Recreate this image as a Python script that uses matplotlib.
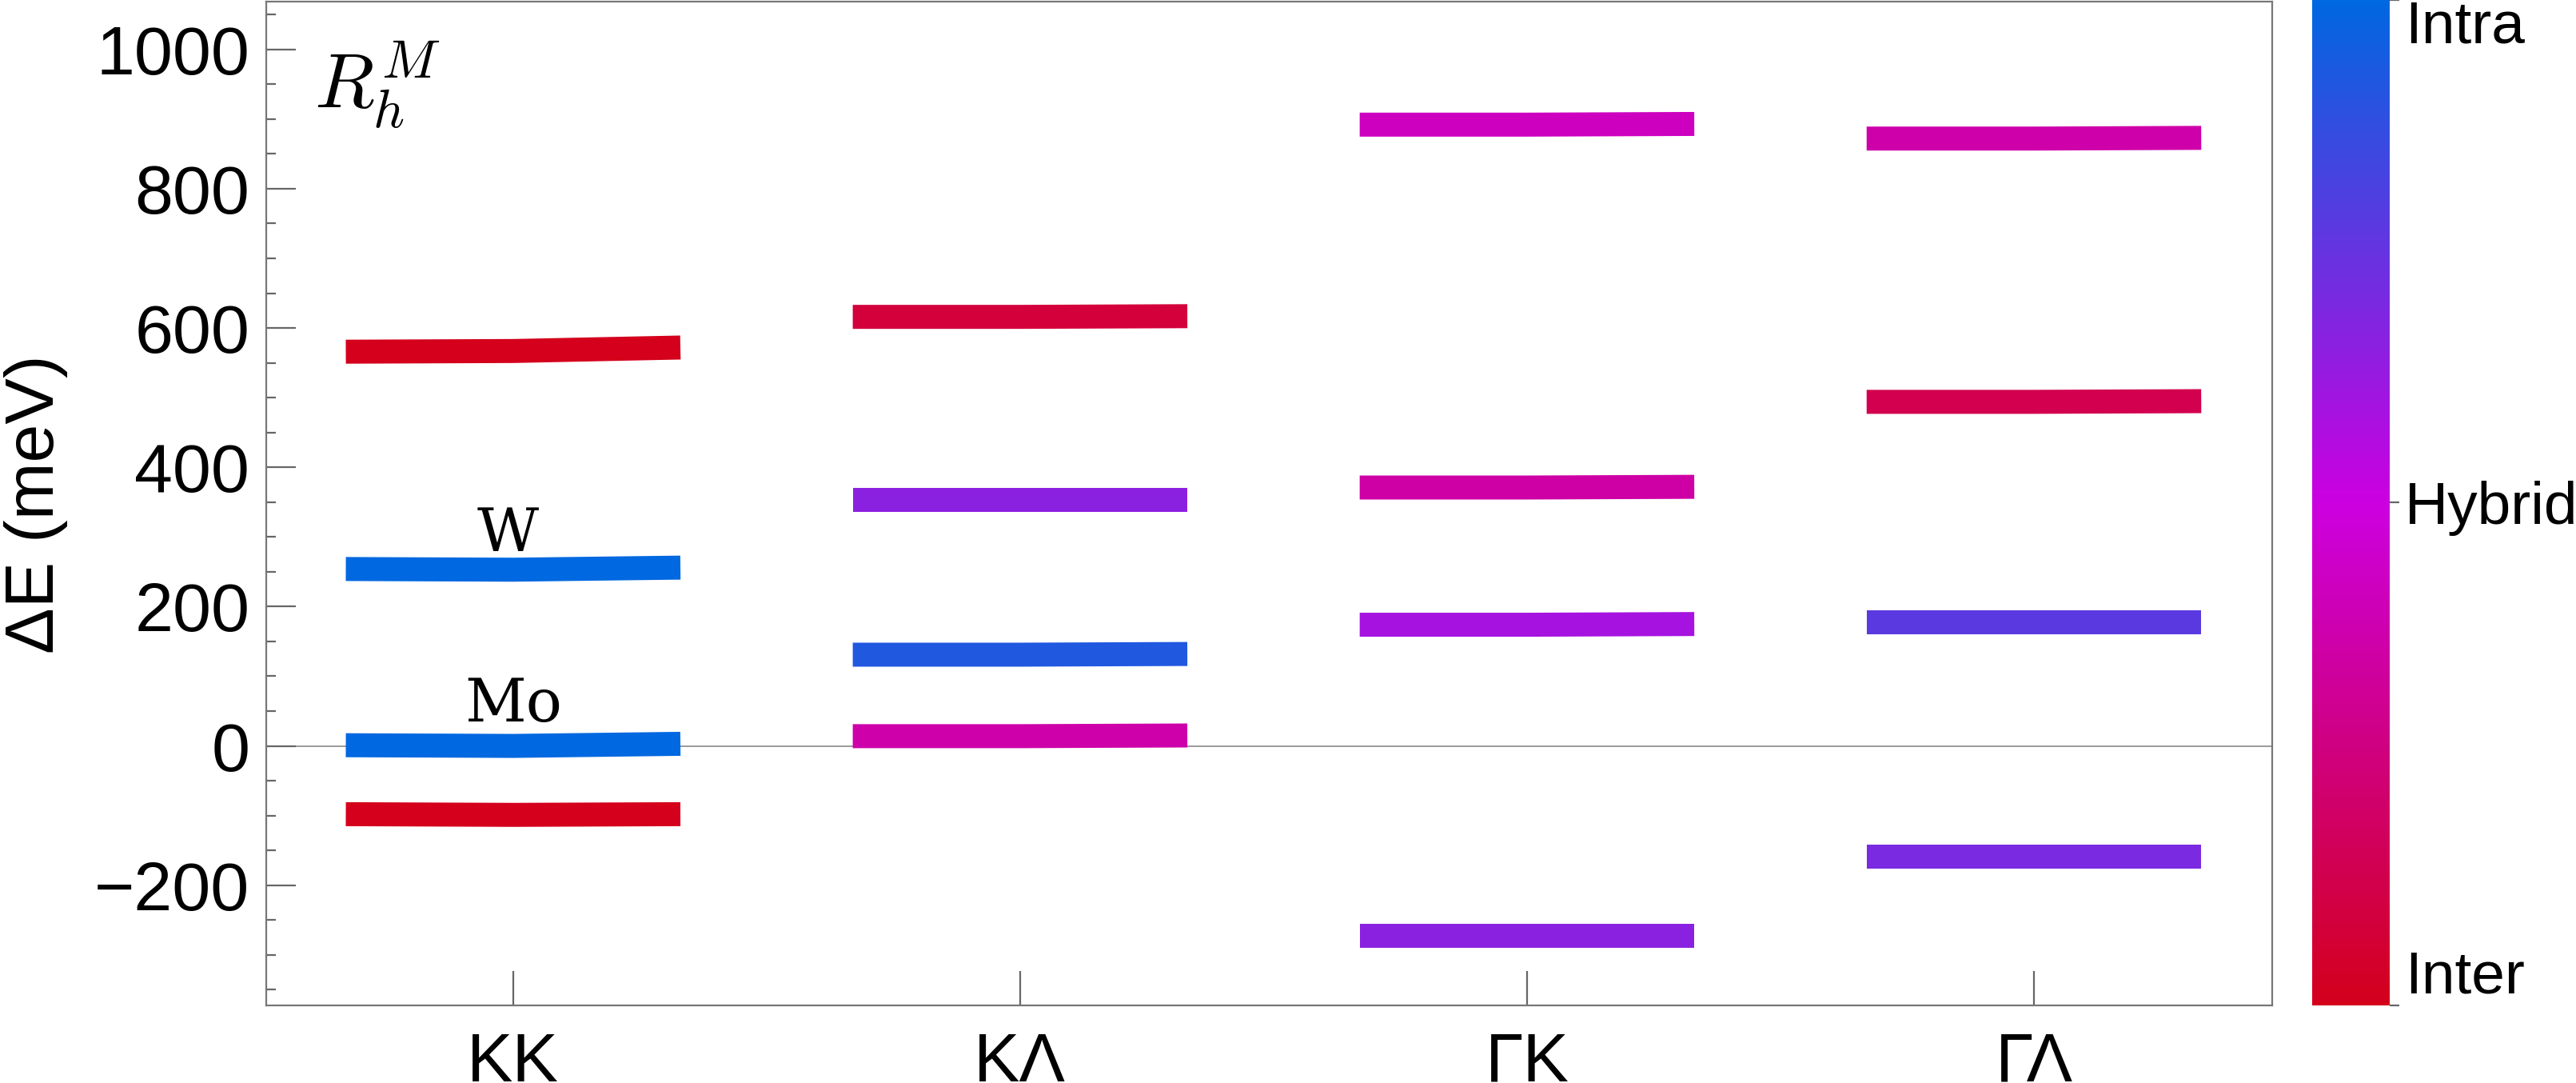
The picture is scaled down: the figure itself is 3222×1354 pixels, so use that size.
import numpy as np
import matplotlib
matplotlib.use("Agg")
import matplotlib.pyplot as plt
from matplotlib.colors import LinearSegmentedColormap
from matplotlib.ticker import MultipleLocator

plt.rcParams['font.family'] = ['Liberation Sans', 'DejaVu Sans']
plt.rcParams['mathtext.fontset'] = 'cm'

# x categories (momentum valleys)
paths = ["KK", "KΛ", "ΓK", "ΓΛ"]

# one entry per level: which path, energy at left / middle / right end (meV),
# and layer character (0 = inter, 1 = intra)
level_path = [0, 0, 0, 0, 1, 1, 1, 1, 2, 2, 2, 2, 3, 3, 3, 3]
e_left = [566, 254, 1, -98, 616, 353, 131, 14, 892, 371, 174, -273, 872, 494, 177, -159]
e_mid = [567, 253, 0, -99, 616, 353, 131, 14, 892, 371, 174, -273, 872, 494, 177, -159]
e_right = [572, 256, 3, -98, 617, 353, 132, 15, 893, 372, 175, -273, 873, 495, 177, -159]
character = [0.0, 1.0, 1.0, 0.0, 0.08, 0.66, 0.92, 0.36,
             0.42, 0.35, 0.59, 0.66, 0.36, 0.13, 0.78, 0.70]

# labels on the KK levels
level_names = ["W", "Mo"]
name_x = [0.99, 1.0]
name_y = [280, 35]

cbar_ticks = [0, 0.5, 1]
cbar_labels = ["Inter", "Hybrid", "Intra"]

cmap = LinearSegmentedColormap.from_list(
    "interintra", [(0.0, "#d4001c"), (0.5, "#cc00e0"), (1.0, "#0068e0")])

W, H = 3222, 1354
fig = plt.figure(figsize=(W / 200, H / 200), dpi=200)
ax = fig.add_axes([333 / W, 1 - 1256.5 / H, (2842 - 333) / W, (1256.5 - 1.7) / H])

half = 0.33
for p, a, m, b, c in zip(level_path, e_left, e_mid, e_right, character):
    x = p + 1
    ax.plot([x - half, x, x + half], [a, m, b], color=cmap(c), lw=10.8,
            solid_capstyle="butt", solid_joinstyle="round", zorder=3)

ax.axhline(0, color="#9a9a9a", lw=0.7, zorder=1)

for name, x, y in zip(level_names, name_x, name_y):
    ax.text(x, y, name, family="DejaVu Serif", fontsize=27, ha="center", va="baseline")

ax.text(0.024, 0.962, r"$R_h^M$", transform=ax.transAxes, fontsize=35,
        ha="left", va="top")

ax.set_xlim(0.513, 4.47)
ax.set_ylim(-372, 1069)
ax.set_xticks(range(1, len(paths) + 1))
ax.set_xticklabels(paths)
ax.yaxis.set_major_locator(MultipleLocator(200))
ax.yaxis.set_minor_locator(MultipleLocator(50))
ax.tick_params(axis="x", direction="in", length=15.5, width=0.8, color="#666666",
               labelsize=31, pad=12)
ax.tick_params(axis="y", which="major", direction="in", length=13.3, width=0.8,
               color="#666666", labelsize=31, pad=7.5)
ax.tick_params(axis="y", which="minor", direction="in", length=4.3, width=0.8,
               color="#666666")
for s in ax.spines.values():
    s.set_color("#777777")
    s.set_linewidth(0.8)

fig.text(45 / W, 1 - 630 / H, "ΔE (meV)", rotation=90, ha="center", va="center",
         fontsize=31)

# colour bar
cax = fig.add_axes([2892 / W, 1 - 1256.5 / H, 97 / W, 1256.5 / H])
grad = np.linspace(0, 1, 256).reshape(-1, 1)
cax.imshow(grad, aspect="auto", cmap=cmap, origin="lower", extent=[0, 1, 0, 1])
cax.set_xticks([])
cax.yaxis.tick_right()
cax.set_yticks(cbar_ticks)
cax.set_yticklabels(cbar_labels)
cax.set_ylim(0, 1)
cax.tick_params(axis="y", direction="out", length=4.3, width=0.8, color="#666666",
                labelsize=27, pad=2.5)
for s in cax.spines.values():
    s.set_visible(False)
labs = cax.get_yticklabels()
labs[0].set_va("bottom")
labs[-1].set_va("top")

fig.savefig("out.png", dpi=200)
